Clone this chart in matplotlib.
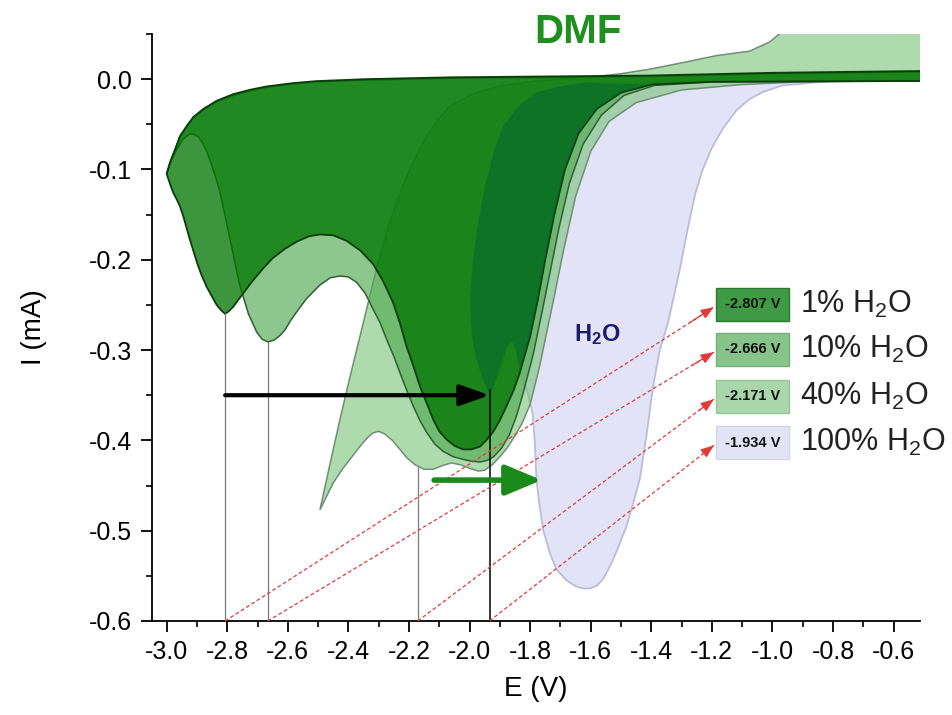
import matplotlib
matplotlib.use("Agg")
import matplotlib.pyplot as plt
from matplotlib.patches import Rectangle
from matplotlib.ticker import MultipleLocator, FormatStrFormatter

plt.rcParams['font.family'] = ['Liberation Sans', 'DejaVu Sans']
plt.rcParams['mathtext.fontset'] = 'custom'
plt.rcParams['mathtext.rm'] = 'Liberation Sans'
plt.rcParams['mathtext.bf'] = 'Liberation Sans:bold'
plt.rcParams['mathtext.default'] = 'regular'
plt.rcParams['axes.unicode_minus'] = False

# ========== CV loops (E in V, I in mA) ==========
# 1 % H2O
E_1 = [-0.51, -1.0, -1.4, -2.06, -2.34, -2.505, -2.582, -2.67, -2.725, -2.78, -2.835, -2.879,
       -2.912, -2.934, -2.956, -2.972, -2.989, -3.0,
       -2.995, -2.987, -2.978, -2.967, -2.956, -2.945, -2.934, -2.923, -2.912, -2.9, -2.885,
       -2.868, -2.85, -2.835, -2.82, -2.807,
       -2.795, -2.78, -2.758, -2.72, -2.68, -2.649, -2.61, -2.571, -2.53, -2.494, -2.45, -2.406,
       -2.36, -2.318, -2.285, -2.253, -2.23, -2.208, -2.185, -2.164, -2.14, -2.12, -2.1, -2.076,
       -2.05, -2.022, -1.995, -1.966, -1.945, -1.923, -1.9, -1.878, -1.855, -1.834, -1.80,
       -1.775, -1.75, -1.72, -1.685, -1.64, -1.58, -1.5, -1.4, -1.2, -0.51]
I_1 = [0.009, 0.007, 0.004, 0.002, 0.0, -0.0022, -0.0044, -0.0081, -0.0118, -0.0166, -0.024, -0.033,
       -0.042, -0.052, -0.063, -0.0776, -0.092, -0.105,
       -0.110, -0.118, -0.126, -0.133, -0.141, -0.152, -0.165, -0.178, -0.190, -0.203, -0.217,
       -0.230, -0.241, -0.250, -0.256, -0.260,
       -0.257, -0.252, -0.242, -0.225, -0.209, -0.198, -0.188, -0.180, -0.174, -0.172, -0.173, -0.179,
       -0.190, -0.205, -0.224, -0.247, -0.270, -0.296, -0.318, -0.340, -0.360, -0.377, -0.390, -0.399,
       -0.406, -0.410, -0.410, -0.407, -0.400, -0.391, -0.378, -0.362, -0.345, -0.325, -0.285,
       -0.245, -0.200, -0.150, -0.100, -0.060, -0.033, -0.015, -0.006, -0.003, -0.002]

# 10 % H2O
E_10 = [-0.51, -1.0, -1.4, -2.06, -2.34, -2.505, -2.582, -2.67, -2.725, -2.78, -2.835, -2.879,
        -2.912, -2.934, -2.956, -2.972, -2.989, -3.0,
        -2.985, -2.967, -2.945, -2.925, -2.912, -2.895, -2.879, -2.868, -2.857, -2.84, -2.824,
        -2.808, -2.791, -2.775, -2.758, -2.73, -2.703, -2.685, -2.666, -2.646, -2.626, -2.61,
        -2.592, -2.565, -2.538, -2.494, -2.46, -2.428, -2.40, -2.373, -2.345, -2.318, -2.295,
        -2.274, -2.25, -2.23, -2.208, -2.186, -2.164, -2.142, -2.115, -2.088, -2.055, -2.022,
        -1.995, -1.966, -1.94, -1.92, -1.895, -1.87, -1.845, -1.825, -1.79, -1.762, -1.735,
        -1.705, -1.67, -1.625, -1.565, -1.49, -1.39, -1.2, -0.51]
I_10 = [0.008, 0.006, 0.003, 0.001, -0.001, -0.003, -0.005, -0.009, -0.013, -0.018, -0.025, -0.034,
        -0.043, -0.053, -0.064, -0.078, -0.093, -0.105,
        -0.090, -0.078, -0.066, -0.061, -0.061, -0.064, -0.072, -0.080, -0.090, -0.107, -0.125,
        -0.150, -0.177, -0.203, -0.229, -0.260, -0.280, -0.288, -0.291, -0.289, -0.284, -0.278,
        -0.268, -0.255, -0.243, -0.228, -0.220, -0.218, -0.219, -0.225, -0.237, -0.255, -0.270,
        -0.288, -0.307, -0.325, -0.344, -0.362, -0.378, -0.391, -0.404, -0.412, -0.418, -0.421,
        -0.423, -0.424, -0.422, -0.418, -0.409, -0.395, -0.373, -0.350, -0.305, -0.260, -0.215,
        -0.165, -0.115, -0.072, -0.040, -0.018, -0.007, -0.003, -0.002]

# 40 % H2O
E_40 = [-0.51, -0.97, -0.977, -1.01, -1.075, -1.185, -1.3, -1.405, -1.5, -1.581, -1.7, -1.8,
        -1.889, -1.95, -2.0, -2.065, -2.11, -2.153, -2.19, -2.23, -2.27, -2.307, -2.335, -2.362,
        -2.395, -2.428, -2.46, -2.494, -2.472, -2.45, -2.42, -2.395, -2.365, -2.34, -2.32, -2.3,
        -2.28, -2.255, -2.23, -2.205, -2.18, -2.15, -2.12, -2.09, -2.06, -2.03, -2.0, -1.97,
        -1.95, -1.925, -1.9, -1.875, -1.85, -1.825, -1.80, -1.77, -1.745, -1.72, -1.69, -1.65,
        -1.60, -1.54, -1.45, -1.3, -1.1, -0.9, -0.51]
I_40 = [0.07, 0.07, 0.05, 0.041, 0.031, 0.026, 0.018, 0.011, 0.006, 0.003, 0.0, -0.003,
        -0.007, -0.012, -0.018, -0.030, -0.047, -0.070, -0.095, -0.126, -0.165, -0.210, -0.248, -0.285,
        -0.330, -0.377, -0.425, -0.477, -0.462, -0.447, -0.432, -0.421, -0.408, -0.398, -0.392, -0.390,
        -0.393, -0.400, -0.410, -0.420, -0.427, -0.432, -0.432, -0.428, -0.425, -0.427, -0.431, -0.434,
        -0.433, -0.427, -0.418, -0.408, -0.395, -0.380, -0.360, -0.320, -0.280, -0.240, -0.190, -0.130,
        -0.080, -0.047, -0.026, -0.012, -0.006, -0.003, -0.002]

# 100 % H2O
E_h2o = [-0.51, -0.8, -0.966, -1.03, -1.075, -1.12, -1.164, -1.2, -1.23, -1.255, -1.273, -1.29,
         -1.306, -1.325, -1.345, -1.372, -1.394, -1.416, -1.438, -1.46, -1.482, -1.505, -1.526,
         -1.545, -1.56, -1.58, -1.603, -1.625, -1.647, -1.68, -1.713, -1.735, -1.757, -1.77, -1.779,
         -1.785, -1.792, -1.81, -1.834, -1.848, -1.86, -1.875, -1.90, -1.933, -1.955, -1.99, -2.0,
         -1.988, -1.95, -1.889, -1.779, -1.614, -1.2]
I_h2o = [-0.001, -0.002, -0.007, -0.014, -0.022, -0.035, -0.055, -0.076, -0.100, -0.127, -0.155, -0.183,
         -0.211, -0.240, -0.270, -0.300, -0.340, -0.395, -0.443, -0.470, -0.495, -0.515, -0.532,
         -0.545, -0.554, -0.561, -0.564, -0.564, -0.562, -0.555, -0.543, -0.525, -0.499, -0.470, -0.443,
         -0.400, -0.370, -0.345, -0.325, -0.298, -0.290, -0.296, -0.320, -0.350, -0.333, -0.290, -0.240,
         -0.200, -0.120, -0.052, -0.015, -0.004, -0.002]

# pure DMF
E_dmf = [-1.4, -1.5, -1.614, -1.70, -1.779, -1.84, -1.889, -1.92, -1.95, -1.972, -1.988, -1.998,
         -1.995, -1.99, -1.975, -1.955, -1.933, -1.915, -1.90, -1.875, -1.86, -1.848, -1.834,
         -1.80, -1.775, -1.75, -1.72, -1.685, -1.64, -1.58, -1.5]
I_dmf = [-0.006, -0.005, -0.004, -0.008, -0.015, -0.030, -0.052, -0.080, -0.120, -0.160, -0.200, -0.240,
         -0.270, -0.290, -0.313, -0.333, -0.350, -0.335, -0.320, -0.296, -0.290, -0.298, -0.325,
         -0.285, -0.245, -0.200, -0.150, -0.100, -0.060, -0.033, -0.015]

# peak potentials
peak_E = [-2.807, -2.666, -2.171, -1.934]
peak_I = [-0.259, -0.291, -0.430, -0.344]
peak_text = ['-2.807 V', '-2.666 V', '-2.171 V', '-1.934 V']
legend_text = ['1% H$_2$O', '10% H$_2$O', '40% H$_2$O', '100% H$_2$O']
legend_colors = ['#3f9a45', '#86c48a', '#a9d6ab', '#e3e3f6']
legend_edges = ['#2b7a30', '#74b078', '#96c498', '#d4d4ea']

# ========== Figure ==========
fig = plt.figure(figsize=(9.53, 7.15), dpi=100)
ax = fig.add_axes([0.159, 0.1315, 0.806, 0.821])

ax.fill(E_h2o, I_h2o, facecolor='#e3e3f7', edgecolor='#bcbcd6', lw=1.3, zorder=1)
ax.fill(E_40, I_40, facecolor=(120/255, 195/255, 120/255, 0.6), edgecolor='#6e8f74', lw=1.1, zorder=2)
ax.fill(E_10, I_10, facecolor=(80/255, 170/255, 80/255, 0.65), edgecolor='#2f5f35', lw=1.1, zorder=3)
ax.fill(E_1, I_1, facecolor=(0, 117/255, 0, 0.76), edgecolor='#0b3d0b', lw=1.3, zorder=4)
ax.fill(E_dmf, I_dmf, facecolor=(0, 90/255, 60/255, 0.4), edgecolor='none', zorder=5)

# peak markers
for k in range(4):
    c = 'black' if k == 3 else '#7a7a7a'
    ax.plot([peak_E[k], peak_E[k]], [-0.6, peak_I[k]], color=c, lw=1.1 if k == 3 else 0.9, zorder=6)

# shift arrows
ax.annotate('', xy=(peak_E[3], -0.35), xytext=(peak_E[0], -0.35),
            arrowprops=dict(arrowstyle='-|>,head_length=0.9,head_width=0.32', lw=3, color='black',
                            mutation_scale=20, shrinkA=0, shrinkB=0), zorder=8)
ax.annotate('', xy=(-1.762, -0.444), xytext=(-2.117, -0.444),
            arrowprops=dict(arrowstyle='-|>,head_length=1.0,head_width=0.42', lw=4, color='#1a8a1a',
                            mutation_scale=22, shrinkA=0, shrinkB=0), zorder=8)

# value boxes and labels
box_left, box_w, box_h = -1.185, 0.24, 0.0366
box_I = [-0.2494, -0.2993, -0.3514, -0.4024]
for k in range(4):
    ax.add_patch(Rectangle((box_left, box_I[k] - box_h / 2), box_w, box_h,
                           facecolor=legend_colors[k], edgecolor=legend_edges[k], lw=1, zorder=7))
    ax.text(box_left + box_w / 2, box_I[k], peak_text[k], ha='center', va='center',
            fontsize=10.5, fontweight='bold', color='#111111', zorder=8)
    ax.text(-0.91, box_I[k], legend_text[k], ha='left', va='center', fontsize=22,
            color='#222222', zorder=8)
    # dashed pointer from the axis to the box
    x0, y0 = peak_E[k], -0.6
    x1, y1 = box_left - 0.008, box_I[k] - 0.003
    ax.plot([x0, x1], [y0, y1], color='#e03a3a', lw=0.9, ls=(0, (3, 2)), zorder=7, clip_on=False)
    ax.annotate('', xy=(x1, y1), xytext=(x1 - 0.05 * (x1 - x0), y1 - 0.05 * (y1 - y0)),
                arrowprops=dict(arrowstyle='-|>,head_length=0.8,head_width=0.3', color='#e03a3a',
                                lw=0.9, mutation_scale=10, shrinkA=0, shrinkB=0), zorder=8)

ax.text(-1.579, -0.283, 'H$_2$O', ha='center', va='center', fontsize=17, fontweight='bold',
        color='#1c1c6e', zorder=8)
fig.text(0.6065, 0.955, 'DMF', ha='center', va='center', fontsize=29, fontweight='bold', color='#1f8f1f')

# ========== Axes ==========
ax.set_xlim(-3.05, -0.514)
ax.set_ylim(-0.6, 0.05)
ax.xaxis.set_major_locator(MultipleLocator(0.2))
ax.xaxis.set_minor_locator(MultipleLocator(0.1))
ax.yaxis.set_major_locator(MultipleLocator(0.1))
ax.yaxis.set_minor_locator(MultipleLocator(0.05))
ax.xaxis.set_major_formatter(FormatStrFormatter('%.1f'))
ax.yaxis.set_major_formatter(FormatStrFormatter('%.1f'))
for s in ['top', 'right']:
    ax.spines[s].set_visible(False)
for s in ['left', 'bottom']:
    ax.spines[s].set_linewidth(1.3)
ax.tick_params(which='major', direction='out', length=8, width=1.3, labelsize=18, pad=6)
ax.tick_params(which='minor', direction='out', length=4, width=1.2)
ax.set_xlabel('E (V)', fontsize=20, labelpad=8)
ax.set_ylabel('I (mA)', fontsize=20, labelpad=30)

fig.savefig('out.png', dpi=100)
